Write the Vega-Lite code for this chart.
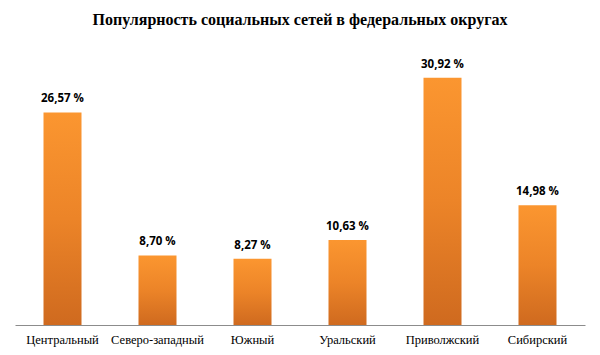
{
  "$schema": "https://vega.github.io/schema/vega-lite/v6.json",
  "width": 570,
  "height": 280,
  "autosize": {"type": "none"},
  "padding": {"left": 15, "top": 45, "right": 15, "bottom": 30},
  "background": "white",
  "title": {
    "text": "Популярность социальных сетей в федеральных округах",
    "font": "Liberation Serif",
    "fontSize": 16,
    "fontWeight": "bold",
    "color": "#000000",
    "anchor": "middle",
    "offset": 17
  },
  "data": {
    "values": [
      {"region": "Центральный", "value": 26.57, "label": "26,57 %"},
      {"region": "Северо-западный", "value": 8.70, "label": "8,70 %"},
      {"region": "Южный", "value": 8.27, "label": "8,27 %"},
      {"region": "Уральский", "value": 10.63, "label": "10,63 %"},
      {"region": "Приволжский", "value": 30.92, "label": "30,92 %"},
      {"region": "Сибирский", "value": 14.98, "label": "14,98 %"}
    ]
  },
  "encoding": {
    "x": {
      "field": "region",
      "type": "nominal",
      "sort": null,
      "scale": {"paddingInner": 0.6, "paddingOuter": 0.3},
      "axis": {
        "title": null,
        "labelAngle": 0,
        "labelFont": "Liberation Serif",
        "labelFontSize": 12.5,
        "labelColor": "#000000",
        "labelPadding": 8,
        "ticks": false,
        "domainColor": "#8c8c8c",
        "domainWidth": 1
      }
    },
    "y": {
      "field": "value",
      "type": "quantitative",
      "scale": {"domain": [0, 35]},
      "axis": null
    }
  },
  "layer": [
    {
      "mark": {
        "type": "bar",
        "color": {
          "gradient": "linear",
          "x1": 0, "y1": 0, "x2": 0, "y2": 1,
          "stops": [
            {"offset": 0, "color": "#fb9630"},
            {"offset": 0.5, "color": "#ec8428"},
            {"offset": 1, "color": "#cf6a1f"}
          ]
        }
      }
    },
    {
      "mark": {
        "type": "text",
        "dy": -8,
        "font": "Open Sans",
        "fontSize": 11.5,
        "fontWeight": "bold",
        "color": "#000000",
        "baseline": "bottom"
      },
      "encoding": {"text": {"field": "label"}}
    }
  ],
  "config": {"view": {"stroke": null}}
}
